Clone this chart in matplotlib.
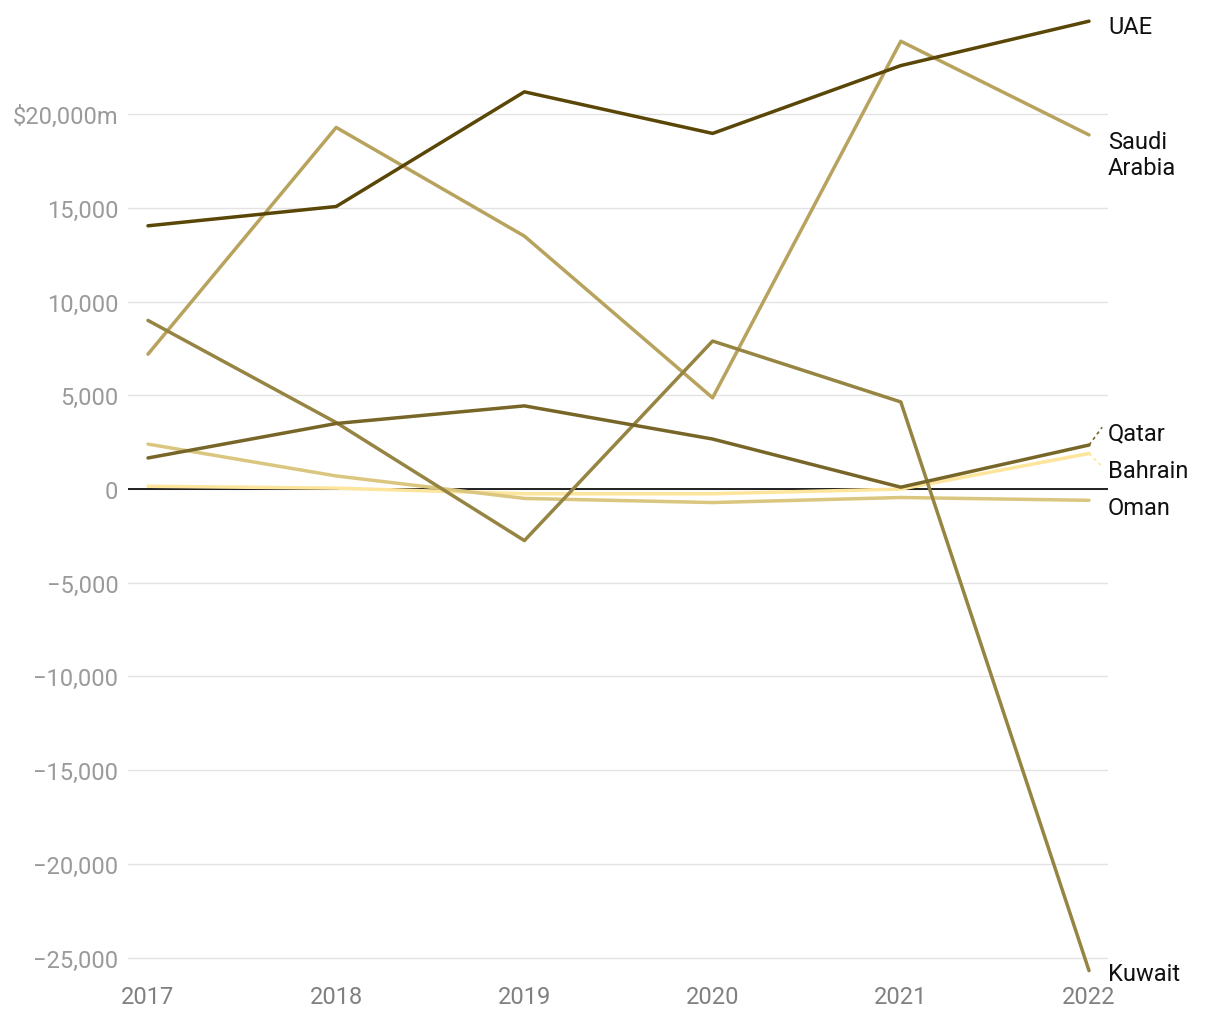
import matplotlib
matplotlib.use('Agg')
from matplotlib import pyplot as plt

years = [2017, 2018, 2019, 2020, 2021, 2022]

# net FDI flows, $m
uae = [14050, 15080, 21200, 18980, 22600, 24970]
saudi = [7200, 19300, 13500, 4870, 23900, 18900]
kuwait = [9000, 3550, -2750, 7900, 4650, -25700]
qatar = [1660, 3500, 4440, 2670, 100, 2350]
oman = [2400, 700, -500, -720, -450, -600]
bahrain = [150, 50, -250, -250, 0, 1900]

series = [
    ('Bahrain', bahrain, '#fde59c'),
    ('Oman', oman, '#dac67e'),
    ('Saudi Arabia', saudi, '#b8a35e'),
    ('Kuwait', kuwait, '#968542'),
    ('Qatar', qatar, '#776628'),
    ('UAE', uae, '#5a4708'),
]

# label positions (data y) at right edge
label_y = {
    'UAE': 24700, 'Saudi Arabia': 17850, 'Qatar': 3000,
    'Bahrain': 1000, 'Oman': -1000, 'Kuwait': -25850,
}
label_txt = {'Saudi Arabia': 'Saudi\nArabia'}

plt.rcParams['font.family'] = ['Roboto', 'DejaVu Sans']

fig = plt.figure(figsize=(12.2, 10.2), dpi=100)
ax = fig.add_axes([128 / 1220, 1 - 978 / 1020, (1108 - 128) / 1220, (978 - 16) / 1020])

for name, vals, col in series:
    ax.plot(years, vals, color=col, lw=2.5, solid_capstyle='round', zorder=3)

ax.axhline(0, color='#111111', lw=1.3, zorder=2)

ax.set_xlim(2017 - 20 / 188.2, 2022 + 19 / 188.2)
ax.set_ylim(-26040, 25300)

yt = [-25000, -20000, -15000, -10000, -5000, 0, 5000, 10000, 15000, 20000]
ax.set_yticks(yt)
ylabs = []
for v in yt:
    s = f'{abs(v):,}'
    if v < 0:
        s = '\u2212' + s
    if v == 20000:
        s = '$20,000m'
    ylabs.append(s)
ax.set_yticklabels(ylabs)
ax.set_xticks(years)
ax.set_xticklabels([str(y) for y in years])
ax.tick_params(axis='y', length=0, pad=7, labelsize=17, labelcolor='#9a9a9a')
ax.tick_params(axis='x', length=0, pad=6, labelsize=17, labelcolor='#808080')
ax.grid(axis='y', color='#e3e3e3', lw=1, zorder=0)
for sp in ax.spines.values():
    sp.set_visible(False)

for name, vals, col in series:
    ax.text(1.0, label_y[name], label_txt.get(name, name),
            transform=ax.get_yaxis_transform(),
            ha='left', va='center', fontsize=17, color='#111111', linespacing=1.15,
            clip_on=False)

# dashed leaders for Qatar and Bahrain
ax.plot([2022, 2022.07], [qatar[-1], 3300], color='#776628', lw=1.2,
        ls=(0, (2, 2)), clip_on=False)
ax.plot([2022, 2022.07], [bahrain[-1], 1200], color='#fde59c', lw=1.2,
        ls=(0, (2, 2)), clip_on=False)

fig.savefig('out.png', dpi=100)
